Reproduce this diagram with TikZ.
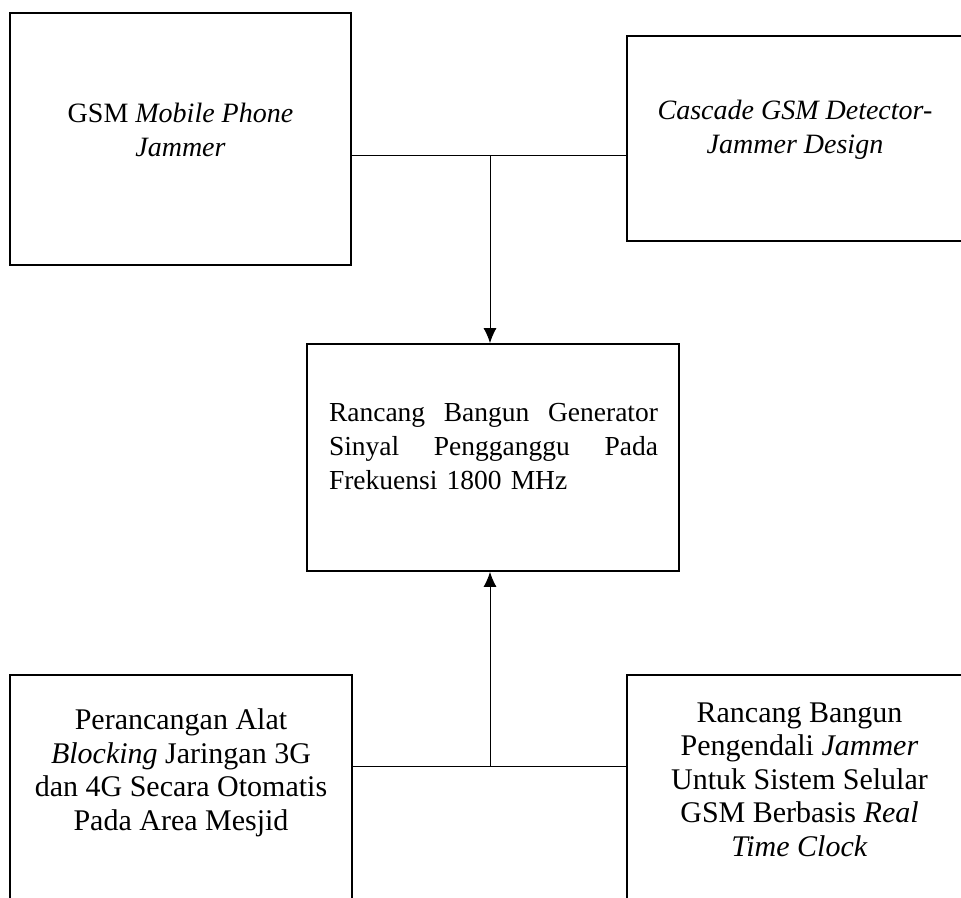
\documentclass[tikz,border=0pt]{standalone}
\usepackage{fontspec}
\setmainfont{Liberation Serif}
\usetikzlibrary{arrows.meta}

\tikzset{
  blok/.style={draw, line width=1.8pt, inner sep=0pt},
  teks/.style={inner sep=0pt, align=center, font=\fontsize{28}{34}\selectfont},
  teksbawah/.style={inner sep=0pt, align=center, font=\fontsize{30}{33.5}\selectfont},
  garis/.style={line width=1pt},
  panah/.style={line width=1pt, -{Latex[length=15pt,width=13pt]}}
}

\begin{document}
\begin{tikzpicture}[x=1pt,y=1pt,yscale=-1,xscale=1]
			\clip (0,0) rectangle (961,897);
			\fill[white] (0,0) rectangle (961,897);
			
			%Kotak referensi atas
			\node[blok, minimum width=341pt, minimum height=252pt] (gsm) at (180.5,139) {};
			\node[blok, minimum width=336pt, minimum height=205pt] (cascade) at (795,138.5) {};
			%Kotak utama
			\node[blok, minimum width=372pt, minimum height=227pt] (gen) at (493,457.5) {};
			%Kotak referensi bawah
			\node[blok, minimum width=342pt, minimum height=260pt] (blocking) at (181,805) {};
			\node[blok, minimum width=345pt, minimum height=260pt] (rtc) at (799.5,805) {};
			
			% Text Node
			\node[teks] (tgsm) at (180.5,130) {GSM \textit{Mobile Phone}\\\textit{Jammer}};
			% Text Node
			\node[teks] (tcascade) at (795,130) {\textit{Cascade GSM Detector-}\\\textit{Jammer Design}};
			% Text Node
			\node[teks, text width=329pt, align=left, font=\fontsize{27.5}{34}\selectfont] (tgen) at (493.5,447)
				{Rancang\hfill Bangun\hfill Generator\\Sinyal\hfill Pengganggu\hfill Pada\\Frekuensi 1800 MHz};
			% Text Node
			\node[teksbawah] (tblocking) at (181,773) {Perancangan Alat\\\textit{Blocking} Jaringan 3G\\dan 4G Secara Otomatis\\Pada Area Mesjid};
			% Text Node
			\node[teksbawah] (trtc) at (799.5,779.5) {Rancang Bangun\\Pengendali \textit{Jammer}\\Untuk Sistem Selular\\GSM Berbasis \textit{Real}\\\textit{Time Clock}};
			
			%Sambungan atas
			\coordinate (jatas) at (490,155);
			\draw[garis] (gsm.east |- jatas) -- (cascade.west |- jatas);
			\draw[panah] (jatas) -- (jatas |- gen.north);
			%Sambungan bawah
			\coordinate (jbawah) at (490,766);
			\draw[garis] (blocking.east |- jbawah) -- (rtc.west |- jbawah);
			\draw[panah] (jbawah) -- (jbawah |- gen.south);
\end{tikzpicture}
\end{document}
